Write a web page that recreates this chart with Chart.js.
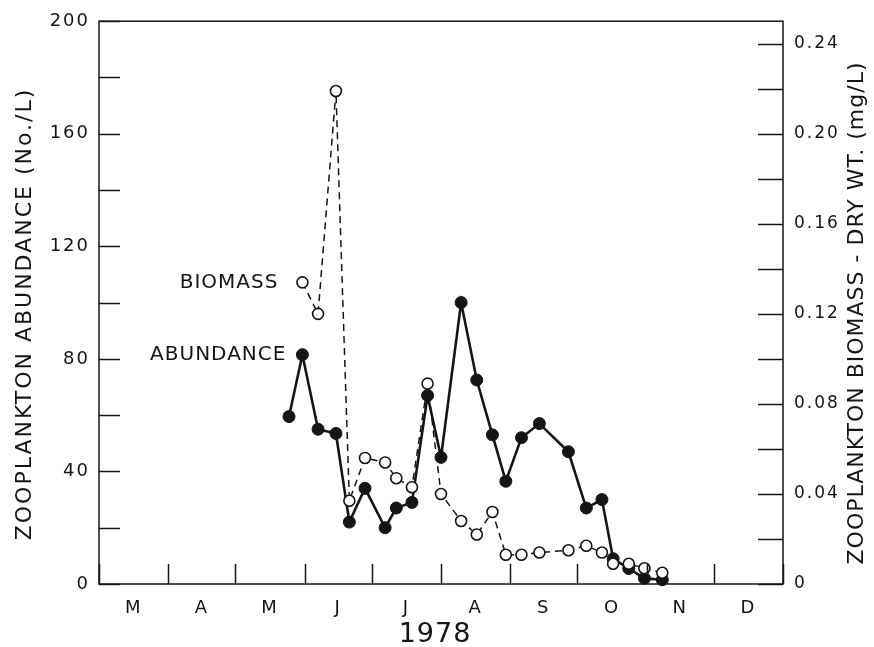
<!DOCTYPE html>
<html><head><meta charset="utf-8">
<script src="https://cdn.jsdelivr.net/npm/chart.js@4/dist/chart.umd.min.js"></script>
<style>html,body{margin:0;padding:0;background:#fff}#wrap{width:874px;height:647px;position:relative}</style>
</head><body><div id="wrap"><canvas id="c" width="874" height="647"></canvas></div>
<script>
// ---- data (x in days since 1 March 1978) ----
const monthLabels = ['M','A','M','J','J','A','S','O','N','D'];
const monthStartDays = [0,31,61,92,122,153,184,214,245,275,306];
const sampleDays = [85,91,98,106,112,119,128,133,140,147,153,162,169,176,182,189,197,210,218,225,230,237,244,252];
const abundance = [59.5,81.5,55,53.5,22,34,20,27,29,67,45,100,72.5,53,36.5,52,57,47,27,30,9,5.5,2,1.5];
const biomass = [null,0.134,0.120,0.219,0.037,0.056,0.054,0.047,0.043,0.089,0.040,0.028,0.022,0.032,0.013,0.013,0.014,0.015,0.017,0.014,0.009,0.009,0.007,0.005];
const abundanceTicks = [0,20,40,60,80,100,120,140,160,180,200];
const biomassTicks = [0,0.02,0.04,0.06,0.08,0.10,0.12,0.14,0.16,0.18,0.20,0.22,0.24];
const yearLabel = '1978';
const leftTitle = 'ZOOPLANKTON ABUNDANCE (No./L)';
const rightTitle = 'ZOOPLANKTON BIOMASS - DRY WT. (mg/L)';
const seriesNames = ['BIOMASS','ABUNDANCE'];

const INK = '#151515';
const FONT = 'DejaVu Sans';
const monthMids = monthLabels.map((m,i)=>(monthStartDays[i]+monthStartDays[i+1])/2);

const abundancePts = sampleDays.map((d,i)=>({x:d,y:abundance[i]}));
const biomassPts = sampleDays.map((d,i)=>({x:d,y:biomass[i]})).filter(p=>p.y!==null);

const decor = {
  id:'decor',
  beforeDraw(chart){ chart.ctx.letterSpacing = '2px'; },
  afterDraw(chart){
    const ctx = chart.ctx, a = chart.chartArea;
    const xs = chart.scales.x, ys = chart.scales.y, y2 = chart.scales.y2;
    ctx.save();
    ctx.strokeStyle = INK; ctx.lineWidth = 1.5;
    ctx.strokeRect(a.left, a.top, a.right-a.left, a.bottom-a.top);
    ctx.beginPath();
    abundanceTicks.forEach(v=>{ const py = Math.round(ys.getPixelForValue(v))+0.5; ctx.moveTo(a.left,py); ctx.lineTo(a.left+21,py); });
    biomassTicks.forEach(v=>{ const py = Math.round(y2.getPixelForValue(v))+0.5; ctx.moveTo(a.right,py); ctx.lineTo(a.right-25,py); });
    monthStartDays.forEach(d=>{ const px = Math.round(xs.getPixelForValue(d))+0.5; ctx.moveTo(px,a.bottom); ctx.lineTo(px,a.bottom-20); });
    ctx.stroke();
    ctx.fillStyle = INK;
    // series annotations
    ctx.font = '20px "'+FONT+'"'; ctx.letterSpacing='1px';
    ctx.textAlign='right'; ctx.textBaseline='middle';
    const b0 = biomassPts[0];
    ctx.fillText(seriesNames[0], xs.getPixelForValue(b0.x)-24, y2.getPixelForValue(b0.y));
    const a1 = abundancePts[1];
    ctx.fillText(seriesNames[1], xs.getPixelForValue(a1.x)-16, ys.getPixelForValue(a1.y));
    // year
    ctx.font = '27px "'+FONT+'"'; ctx.letterSpacing='1px'; ctx.textAlign='center';
    ctx.fillText(yearLabel, 435, 635);
    // axis titles
    ctx.font = '22px "'+FONT+'"'; ctx.letterSpacing='2px';
    ctx.save(); ctx.translate(25, 314); ctx.rotate(-Math.PI/2); ctx.fillText(leftTitle,0,0); ctx.restore();
    ctx.letterSpacing='1px';
    ctx.save(); ctx.translate(857, 313); ctx.rotate(-Math.PI/2); ctx.fillText(rightTitle,0,0); ctx.restore();
    ctx.restore();
  }
};

new Chart(document.getElementById('c'), {
  type:'line',
  data:{ datasets:[
    { label:'Biomass', data:biomassPts, yAxisID:'y2', borderColor:INK, borderWidth:1.5, borderDash:[7,5],
      pointRadius:5.5, pointBackgroundColor:'#fff', pointBorderColor:INK, pointBorderWidth:1.6, tension:0, clip:false },
    { label:'Abundance', data:abundancePts, yAxisID:'y', borderColor:INK, borderWidth:2.6,
      pointRadius:6, pointBackgroundColor:INK, pointBorderColor:INK, pointBorderWidth:1, tension:0, clip:false }
  ]},
  options:{
    responsive:false, animation:false, devicePixelRatio:1,
    layout:{padding:{top:21,left:0,right:0,bottom:0}},
    plugins:{legend:{display:false}, tooltip:{enabled:false}},
    scales:{
      x:{ type:'linear', position:'bottom', min:0, max:306,
        grid:{display:false, drawTicks:false}, border:{display:false},
        afterBuildTicks(s){ s.ticks = monthMids.map(v=>({value:v})); },
        afterFit(s){ s.height = 63; },
        ticks:{ autoSkip:false, maxRotation:0, padding:14, color:INK, font:{family:FONT,size:18},
          callback(v){ const i = monthMids.indexOf(v); return i>=0 ? monthLabels[i] : ''; } } },
      y:{ type:'linear', position:'left', min:0, max:200,
        grid:{display:false, drawTicks:false}, border:{display:false},
        afterBuildTicks(s){ s.ticks = abundanceTicks.map(v=>({value:v})); },
        afterFit(s){ s.width = 99; },
        ticks:{ padding:9, color:INK, font:{family:FONT,size:18},
          callback(v){ return v%40===0 ? String(v) : ''; } } },
      y2:{ type:'linear', position:'right', min:0, max:0.25,
        grid:{display:false, drawTicks:false}, border:{display:false},
        afterBuildTicks(s){ s.ticks = biomassTicks.map(v=>({value:v})); },
        afterFit(s){ s.width = 91; },
        ticks:{ padding:11, color:INK, font:{family:FONT,size:17},
          callback(v){ const k = Math.round(v*100); if (k%4!==0) return ''; return k===0 ? '0' : v.toFixed(2); } } }
    }
  },
  plugins:[decor]
});
</script></body></html>
